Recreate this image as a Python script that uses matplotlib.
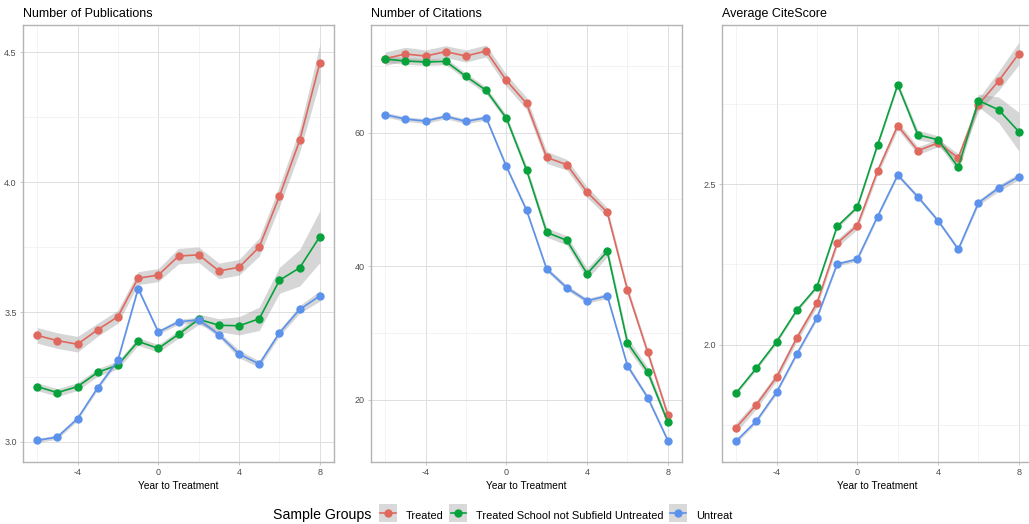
import matplotlib as mpl
from matplotlib import pyplot as plt
from matplotlib.lines import Line2D
from matplotlib.patches import Rectangle
from matplotlib.ticker import MultipleLocator, FormatStrFormatter
import numpy as np

mpl.rcParams['font.family'] = ['Liberation Sans', 'DejaVu Sans']
mpl.rcParams['axes.unicode_minus'] = False

years = [-6, -5, -4, -3, -2, -1, 0, 1, 2, 3, 4, 5, 6, 7, 8]
groups = ['Treated', 'Treated School not Subfield Untreated', 'Untreat']
colors = ['#E0695F', '#07A23B', '#5C92EC']

# Number of publications (mean and ribbon half-width)
pubs_treated = [3.41, 3.39, 3.376, 3.432, 3.482, 3.63, 3.642, 3.715, 3.72, 3.658, 3.672, 3.75, 3.946, 4.16, 4.459]
pubs_school = [3.213, 3.19, 3.213, 3.268, 3.296, 3.387, 3.36, 3.414, 3.472, 3.449, 3.447, 3.474, 3.622, 3.67, 3.79]
pubs_untreat = [3.006, 3.019, 3.09, 3.209, 3.315, 3.59, 3.423, 3.462, 3.47, 3.413, 3.338, 3.30, 3.42, 3.51, 3.562]
pubs_treated_ci = [0.03, 0.03, 0.03, 0.025, 0.025, 0.025, 0.025, 0.03, 0.03, 0.03, 0.03, 0.035, 0.04, 0.045, 0.07]
pubs_school_ci = [0.015, 0.015, 0.015, 0.015, 0.015, 0.015, 0.015, 0.015, 0.02, 0.025, 0.035, 0.045, 0.05, 0.07, 0.10]
pubs_untreat_ci = [0.008, 0.008, 0.008, 0.008, 0.008, 0.008, 0.008, 0.01, 0.01, 0.01, 0.015, 0.012, 0.012, 0.015, 0.02]

# Number of citations
cites_treated = [71.1, 71.8, 71.5, 72.15, 71.5, 72.25, 67.85, 64.4, 56.3, 55.2, 51.1, 48.06, 36.4, 27.1, 17.7]
cites_school = [71.05, 70.75, 70.6, 70.7, 68.45, 66.35, 62.2, 54.45, 45.06, 43.86, 38.86, 42.2, 28.5, 24.15, 16.6]
cites_untreat = [62.7, 62.05, 61.75, 62.45, 61.7, 62.25, 54.96, 48.4, 39.55, 36.76, 34.8, 35.55, 25.06, 20.3, 13.85]
cites_treated_ci = [1.0, 1.0, 0.9, 0.9, 0.9, 0.9, 0.9, 0.9, 0.9, 0.8, 0.8, 0.7, 0.6, 0.5, 0.5]
cites_school_ci = [0.5, 0.5, 0.5, 0.5, 0.5, 0.5, 0.5, 0.6, 0.7, 0.7, 0.8, 0.8, 0.8, 0.7, 0.5]
cites_untreat_ci = [0.35, 0.35, 0.35, 0.35, 0.35, 0.35, 0.35, 0.35, 0.35, 0.35, 0.35, 0.4, 0.35, 0.35, 0.3]

# Average CiteScore
cs_treated = [1.742, 1.813, 1.899, 2.021, 2.129, 2.316, 2.371, 2.54, 2.682, 2.604, 2.628, 2.582, 2.747, 2.821, 2.906]
cs_school = [1.85, 1.927, 2.009, 2.107, 2.18, 2.368, 2.428, 2.621, 2.809, 2.653, 2.638, 2.552, 2.76, 2.731, 2.663]
cs_untreat = [1.70, 1.7625, 1.852, 1.971, 2.083, 2.251, 2.266, 2.399, 2.528, 2.46, 2.386, 2.297, 2.442, 2.4875, 2.523]
cs_treated_ci = [0.015, 0.013, 0.012, 0.012, 0.012, 0.012, 0.012, 0.012, 0.012, 0.012, 0.012, 0.012, 0.02, 0.03, 0.035]
cs_school_ci = [0.006, 0.006, 0.006, 0.006, 0.006, 0.006, 0.006, 0.008, 0.008, 0.015, 0.012, 0.015, 0.02, 0.04, 0.06]
cs_untreat_ci = [0.006, 0.006, 0.006, 0.006, 0.006, 0.006, 0.006, 0.006, 0.006, 0.006, 0.006, 0.006, 0.008, 0.01, 0.01]

panels = [
    ('Number of Publications', [pubs_treated, pubs_school, pubs_untreat],
     [pubs_treated_ci, pubs_school_ci, pubs_untreat_ci], (2.923, 4.604), 0.5, '%.1f'),
    ('Number of Citations', [cites_treated, cites_school, cites_untreat],
     [cites_treated_ci, cites_school_ci, cites_untreat_ci], (10.64, 76.15), 20, '%d'),
    ('Average CiteScore', [cs_treated, cs_school, cs_untreat],
     [cs_treated_ci, cs_school_ci, cs_untreat_ci], (1.635, 2.995), 0.5, '%.1f'),
]

W, H = 1029, 524
fig = plt.figure(figsize=(W / 100, H / 100), dpi=100)
lefts = [23, 371, 722]
width = 311
bottom, top = 462, 25


def draw_panel(ax, title, series, cis, ylim, step, fmt):
    x = np.array(years)
    for vals, ci in zip(series, cis):
        v, c = np.array(vals), np.array(ci)
        ax.fill_between(x, v - c, v + c, color='#999999', alpha=0.4, lw=0, zorder=2)
    for vals, col in zip(series, colors):
        ax.plot(x, vals, color=col, lw=1.2, marker='o', ms=5, zorder=3)

    ax.set_ylim(*ylim)
    ax.set_xlim(-6.7, 8.7)

    ax.xaxis.set_major_locator(MultipleLocator(4))
    ax.xaxis.set_minor_locator(MultipleLocator(2))
    ax.yaxis.set_major_locator(MultipleLocator(step))
    ax.yaxis.set_minor_locator(MultipleLocator(step / 2))
    ax.yaxis.set_major_formatter(FormatStrFormatter(fmt))
    ax.grid(which='major', color='#dedede', lw=0.7, zorder=0)
    ax.grid(which='minor', color='#eeeeee', lw=0.5, zorder=0)
    ax.set_axisbelow(True)

    for s in ax.spines.values():
        s.set_color('#b3b3b3')
        s.set_linewidth(1.0)
    ax.tick_params(which='major', length=2.5, width=0.5, color='#b3b3b3',
                   labelsize=6.5, labelcolor='#4d4d4d', pad=2)
    ax.tick_params(which='minor', length=0)

    ax.set_title(title, loc='left', fontsize=9, pad=6)
    ax.set_xlabel('Year to Treatment', fontsize=7.3, labelpad=3)


for left, (title, series, cis, ylim, step, fmt) in zip(lefts, panels):
    ax = fig.add_axes([left / W, (H - bottom) / H, width / W, (bottom - top) / H])
    draw_panel(ax, title, series, cis, ylim, step, fmt)


class KeyHandler:
    """Grey square key with the group's line and point on top."""

    def legend_artist(self, legend, orig_handle, fontsize, handlebox):
        w = handlebox.width
        xd, yd, h = handlebox.xdescent, handlebox.ydescent, handlebox.height
        cy = -yd + (h + yd) / 2
        tr = handlebox.get_transform()
        rect = Rectangle((-xd, cy - w / 2), w, w, facecolor='#d9d9d9',
                         edgecolor='none', transform=tr)
        col = orig_handle.get_color()
        line = Line2D([-xd + w * 0.08, -xd + w * 0.92], [cy, cy], color=col,
                      lw=1.2, transform=tr)
        dot = Line2D([-xd + w / 2], [cy], marker='o', ms=5, color=col, transform=tr)
        for a in (rect, line, dot):
            handlebox.add_artist(a)
        return rect


handles = [Line2D([], [], color=c) for c in colors]
fig.text(273 / W, 1 - 515 / H, 'Sample Groups', fontsize=10.2, va='center', ha='left')
fig.legend(handles, groups, loc='center left', bbox_to_anchor=(379 / W, 1 - 515 / H),
           ncol=3, frameon=False, fontsize=7.9, handlelength=1.65, handleheight=1.65,
           handletextpad=0.8, columnspacing=0.5, borderpad=0, borderaxespad=0,
           handler_map={Line2D: KeyHandler()})

fig.savefig('out.png', dpi=100)
